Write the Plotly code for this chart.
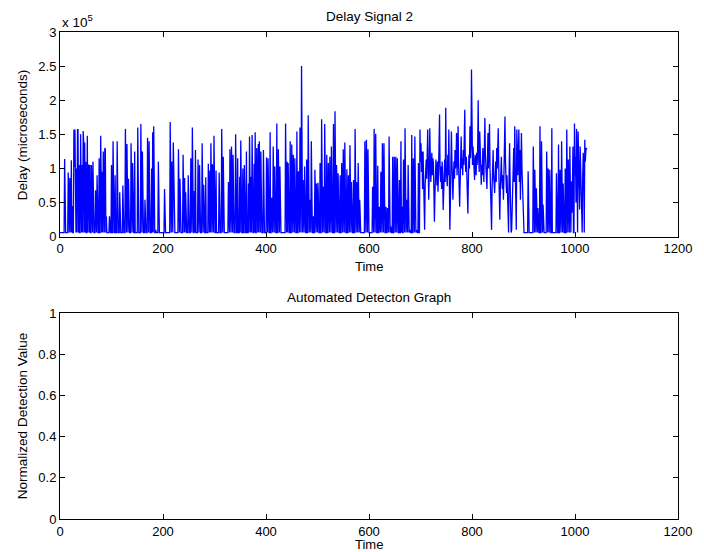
import plotly.graph_objects as go
from plotly.subplots import make_subplots

# Delay values, in units of 1e5 microseconds (one per time step)
delay_e5 = [
    .06,.06,.06,.06,.06,.06,.06,.06,.06,1.14,.06,.06,.06,.06,.06,.06,.94,.06,.06,.86,
    .06,.06,1.12,.06,.45,.06,.06,1.57,1.02,1.57,.06,.06,1.0,.06,1.57,1.57,.06,1.05,.06,.06,
    1.5,.06,.06,1.05,.06,1.55,1.38,.06,1.38,.06,1.1,.06,.06,1.48,.06,1.05,1.05,.06,1.05,.06,
    .06,1.05,.06,.06,1.1,.06,.06,.06,.06,.68,.06,.06,.9,.06,.06,.06,1.15,.06,.06,1.48,
    .06,.06,.95,.06,1.25,.06,.06,1.3,1.28,.06,.3,.06,.06,.06,.06,.06,.3,.06,.06,.06,
    1.05,.06,.06,1.4,.06,.06,.06,.9,.06,.06,.06,1.4,.06,.06,.06,.06,.65,.06,.06,.06,
    .06,.06,.75,.06,.06,.06,.06,1.58,.06,.06,1.36,.06,.06,.85,.06,.06,.06,.06,1.37,.06,
    .06,1.08,.06,.06,.06,1.25,.06,.06,.06,.06,.06,1.6,.06,.06,.06,.06,.06,1.65,.06,.06,
    1.25,.06,.06,.06,.06,.54,.06,.06,.06,.06,1.45,.06,.06,1.4,.06,.06,.06,.06,1.0,.06,
    1.53,.06,1.62,.06,.06,.06,.1,.06,.06,.06,.06,1.1,.06,.06,.06,.06,.06,.06,.06,.06,
    .06,.06,.06,.7,.06,.06,.06,.06,.06,.06,.06,.06,.06,.06,1.68,.06,.06,1.1,.06,.06,
    1.38,.87,.06,.06,.06,.06,.06,.06,.06,.06,1.28,.06,.06,.85,.06,.06,.06,.06,.06,1.2,
    .06,.06,.86,.06,.65,.06,.06,.06,.06,.9,.06,.06,.06,.06,1.15,.06,.06,1.6,.06,.06,
    .06,.67,.06,1.27,.06,.06,.06,.06,1.13,.06,.06,1.05,.06,.06,.06,.06,1.37,.06,.06,.76,
    .06,.06,.06,.87,.06,.06,.06,.06,1.07,.06,.06,.97,.06,1.37,.06,.06,1.06,.06,.06,1.48,
    .06,.06,.06,.97,.06,.06,.06,.06,.06,.94,.06,.06,.06,.06,1.58,.06,.06,1.17,.06,.06,
    .06,.06,.06,.06,.06,.06,.06,.8,.06,.06,1.28,.06,.06,1.32,.06,.06,1.2,.35,.06,.06,
    .06,1.5,.06,.06,.06,1.15,.06,.06,.06,.88,.06,1.41,.06,.06,.06,1.0,.06,.06,1.05,.06,
    .06,.06,1.25,.06,.06,.06,.78,.06,1.47,.06,.06,.88,.06,1.49,.06,.06,.06,1.07,.06,1.53,
    .06,.06,1.3,.06,.06,1.36,.06,1.4,.06,.06,1.25,.06,.06,.06,.06,1.27,.06,.06,.06,.06,
    .06,1.16,.06,.06,1.15,.06,.06,.06,1.53,.06,.06,.57,.06,.06,1.32,.06,.06,1.03,.06,.06,
    .06,1.66,.06,.06,1.28,.06,.06,1.03,.06,.06,.06,.06,.06,.06,.06,.06,.06,.06,1.66,.06,
    .06,1.1,.06,1.08,.06,.06,.06,1.4,.06,.06,1.35,.06,.06,1.2,.06,.06,1.15,.06,.06,.06,
    1.54,.06,.06,.96,.06,.06,1.6,.06,.06,2.5,.06,.06,.83,.06,.06,1.03,.06,.06,.06,1.13,
    .06,.06,1.78,.06,.06,.54,.06,.06,1.4,.06,.06,.06,.3,.06,.06,.98,.06,.06,.78,.06,
    .06,.79,.06,.06,.06,1.08,.06,.06,1.72,.06,.06,.73,.06,.06,1.65,.06,.06,.06,1.2,.06,
    .06,1.08,.06,.06,1.17,.06,.06,1.32,.06,.06,.06,1.65,.06,.06,1.84,.06,.06,1.05,.06,.06,
    .93,.06,.06,.06,.9,.06,.06,1.08,.06,.06,1.28,.06,.06,1.38,.06,.06,.06,.99,.06,.06,
    .9,.06,.06,1.34,.06,.06,.8,.06,.06,.06,.83,.06,.06,1.58,.06,.06,.8,.06,.06,1.08,
    .06,.06,.54,.06,.06,.06,.06,.06,.06,.06,.06,.06,1.4,.06,.06,1.42,.06,.06,1.28,.06,
    .06,.06,.06,.06,.06,.06,.06,.73,.06,.06,1.58,.06,.06,1.51,.06,.06,.06,1.04,.06,.06,
    .44,.06,.06,.95,.06,.06,1.37,.06,.06,1.37,.06,.06,.06,.44,.06,.06,.42,.06,.06,1.47,
    .06,.06,.15,.06,.06,.06,1.17,.06,.06,1.17,.06,.06,1.17,.06,.06,1.15,.06,.06,.06,.83,
    .06,.06,1.4,.06,.44,.06,.06,1.13,.06,.06,1.59,.06,.06,.54,.06,.06,1.05,.06,.06,.1,
    .06,.06,.06,1.49,.06,.06,1.15,.06,.06,1.47,.06,.06,.1,.06,.06,.06,1.08,.06,.06,1.57,
    1.1,1.37,.95,1.25,.7,1.25,.9,.45,.1,.75,1.05,1.13,.85,1.3,1.57,1.0,.54,.95,1.59,1.15,
    .8,1.0,1.23,.9,1.15,1.08,.7,.22,.6,1.0,1.13,.9,.75,1.1,.66,.95,1.3,1.79,1.0,.8,
    1.03,.7,1.1,.9,.39,.6,.95,1.13,.8,1.89,1.0,.85,.74,1.2,.9,1.57,.6,.1,.5,1.0,
    1.54,1.1,.8,.54,.9,1.1,.85,1.27,1.0,1.15,1.52,.9,1.2,1.62,1.05,.75,.44,.8,1.1,1.47,
    1.0,1.15,.9,1.27,1.05,1.3,1.86,1.1,.95,1.17,.8,.6,.34,.85,1.2,1.0,1.62,1.15,1.3,2.45,
    1.2,1.05,1.32,1.1,.95,.83,1.2,1.0,.9,1.23,1.05,1.3,2.0,1.15,.95,1.54,1.2,.9,.76,1.05,
    .9,1.3,1.17,.8,1.1,1.74,1.2,.95,.88,.7,1.1,1.52,1.0,1.3,1.65,1.0,.6,.3,.1,.7,
    1.0,1.27,.9,.8,.64,.9,1.1,.8,1.3,1.0,1.2,1.59,1.0,.6,.25,.7,.9,1.17,.85,.7,
    .9,.54,.9,1.2,1.76,1.1,.85,.64,.9,.4,.1,.06,.9,1.37,.8,.3,.06,.1,.5,.9,
    1.03,1.3,.8,1.62,1.03,.5,.1,1.57,1.2,.9,1.25,1.57,.8,1.27,.54,.9,1.52,1.0,.7,.59,
    .06,.06,.06,.06,.06,.06,.06,.06,.06,.96,.06,.06,.06,.06,.06,.06,.06,.06,.06,1.32,
    .06,.06,.98,.06,.06,.71,.06,.06,.42,.06,.06,.06,1.62,.06,.06,1.4,.06,.06,.47,.06,
    .06,.06,.06,.06,.06,1.25,.06,.06,1.0,.06,.06,.98,.06,.06,.06,1.59,.06,.06,.06,.06,
    .06,.06,.06,.06,.93,.06,.06,.06,1.35,.06,.06,.98,.06,.06,1.4,.06,.06,.78,.06,.06,
    .06,1.0,.06,.06,1.57,.06,.06,1.13,.45,.06,1.32,.6,.06,.81,.35,.7,1.32,.06,.06,1.66,
    .9,1.17,.5,1.58,1.0,.06,1.54,1.1,.8,.4,1.32,.9,.3,.08,.06,.9,1.23,1.0,.06,1.42,
    1.1,1.25,1.3,1.28,
]
time = list(range(len(delay_e5)))

x_ticks = [0, 200, 400, 600, 800, 1000, 1200]
y1_ticks = [0, 0.5, 1, 1.5, 2, 2.5, 3]
y1_labels = ["0", "0.5", "1", "1.5", "2", "2.5", "3"]
y2_ticks = [0, 0.2, 0.4, 0.6, 0.8, 1]
y2_labels = ["0", "0.2", "0.4", "0.6", "0.8", "1"]

FONT = "Liberation Sans, Arial, Helvetica, sans-serif"
TICK = dict(family=FONT, size=13, color="black")
TXT = dict(family=FONT, size=13.5, color="black")

fig = make_subplots(rows=2, cols=1, vertical_spacing=0.05)
fig.add_trace(go.Scatter(x=time, y=delay_e5, mode="lines",
                         line=dict(color="#0000ff", width=1.3),
                         showlegend=False, hoverinfo="x+y"), row=1, col=1)
fig.add_trace(go.Scatter(x=[None], y=[None], mode="lines", showlegend=False,
                         hoverinfo="skip"), row=2, col=1)

axis_style = dict(showline=True, linecolor="black", linewidth=1, mirror="ticks",
                  ticks="inside", ticklen=5, tickcolor="black", tickwidth=1,
                  showgrid=False, zeroline=False, automargin=False,
                  tickfont=TICK)

fig.update_xaxes(range=[0, 1200], tickvals=x_ticks, domain=[0, 1], **axis_style)
fig.update_yaxes(**axis_style)
fig.update_yaxes(range=[0, 3], tickvals=y1_ticks, ticktext=y1_labels, domain=[0.5797, 1.0],
                 row=1, col=1)
fig.update_yaxes(range=[0, 1], tickvals=y2_ticks, ticktext=y2_labels, domain=[0.0, 0.4224],
                 row=2, col=1)

def note(text, x, y, angle=0, xanchor="center", yanchor="middle", font=TXT):
    fig.add_annotation(text=text, xref="paper", yref="paper", x=x, y=y,
                       xanchor=xanchor, yanchor=yanchor, showarrow=False,
                       textangle=angle, font=font)

# titles
note("Delay Signal 2", 0.5, 1.031)
note("Automated Detecton Graph", 0.5, 0.4538)
# axis titles
note("Time", 0.5, 0.5195, font=TICK)
note("Time", 0.5, -0.0524, font=TICK)
note("Delay (microseconds)", -0.0615, 0.79, angle=-90)
note("Normalized Detection Value", -0.0615, 0.2112, angle=-90)
# exponent of the top y axis
note("x 10<sup>5</sup>", 0.0, 1.0, xanchor="left", yanchor="bottom")

# the page body adds an 8px margin, so the figure is sized to fit the window
fig.update_layout(width=696, height=544, autosize=False,
                  margin=dict(l=52, r=26, t=24, b=33),
                  paper_bgcolor="white", plot_bgcolor="white",
                  font=TXT)

fig.write_html("out.html")
